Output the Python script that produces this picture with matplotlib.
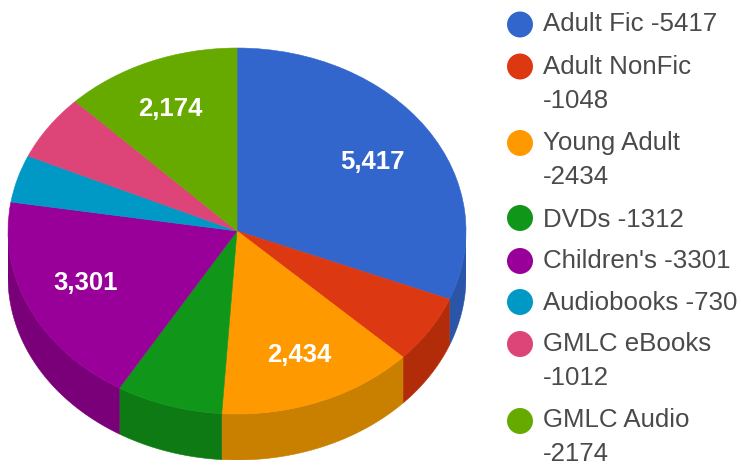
# pie chart of circulation by collection, tilted like the old google 3d pie
import numpy as np
import matplotlib
matplotlib.use('Agg')
import matplotlib.pyplot as plt

categories = ['Adult Fic', 'Adult NonFic', 'Young Adult', 'DVDs', "Children's",
              'Audiobooks', 'GMLC eBooks', 'GMLC Audio']
values = [5417, 1048, 2434, 1312, 3301, 730, 1012, 2174]
colors = ['#3366cc', '#dc3912', '#ff9900', '#109618', '#990099', '#0099c6', '#dd4477', '#66aa00']
side_colors = ['#2a55a8', '#b32c0a', '#c98000', '#0d7a13', '#7a007a', '#007a9e', '#b0365f', '#528800']
legend_text = ['Adult Fic -5417', 'Adult NonFic\n-1048', 'Young Adult\n-2434', 'DVDs -1312',
               "Children's -3301", 'Audiobooks -730', 'GMLC eBooks\n-1012', 'GMLC Audio\n-2174']

# how far out the value labels sit, None means no label on that slice
label_rx = [0.716, None, 0.75, None, 0.73, None, None, 0.76]
label_ry = [0.675, None, 0.73, None, 0.67, None, None, 0.72]
legend_y = [24.5, 66.5, 143, 218, 261, 302, 344, 421]
legend_text_y = [22, 65, 141, 218, 259, 301, 342, 418]

W, H = 741, 466
depth = 46 / 183  # wall height in pie radii

plt.rcParams['font.family'] = ['Liberation Sans', 'DejaVu Sans']
fig = plt.figure(figsize=(W / 100, H / 100), dpi=100)
ax = fig.add_axes([8 / W, 1 - 460 / H, 458 / W, 412 / H])

wedges, _ = ax.pie(values, colors=colors, startangle=90, counterclock=False, radius=1)
for w, c in zip(wedges, colors):
    w.set_edgecolor(c)
    w.set_linewidth(0.4)
    w.set_zorder(3)
ax.set_aspect('auto')
ax.set_xlim(-1, 1)
ax.set_ylim(-1 - depth, 1)

edges = np.cumsum([0] + values) / sum(values) * 360

# side wall, only the front half of the rim can be seen
for i in range(len(values)):
    a = max(edges[i], 90)
    b = min(edges[i + 1], 270)
    if b <= a:
        continue
    t = np.radians(np.linspace(a, b, 60))
    x = np.sin(t)
    y = np.cos(t)
    ax.fill(np.r_[x, x[::-1]], np.r_[y, y[::-1] - depth], color=side_colors[i], lw=0.4, zorder=2)

for i in range(len(values)):
    if label_rx[i] is None:
        continue
    mid = np.radians((edges[i] + edges[i + 1]) / 2)
    ax.text(label_rx[i] * np.sin(mid), label_ry[i] * np.cos(mid), f'{values[i]:,}',
            color='white', fontsize=18.5, fontweight='bold', ha='center', va='center', zorder=4)

# legend drawn by hand in pixel space, wraps are uneven in the original
lg = fig.add_axes([0, 0, 1, 1])
lg.set_xlim(0, W)
lg.set_ylim(H, 0)
lg.axis('off')
lg.patch.set_alpha(0)
lg.scatter([520] * len(legend_y), legend_y, s=350, c=colors, linewidths=0)
for txt, y in zip(legend_text, legend_text_y):
    lg.text(543, y - 10, txt, color='#4a4a4a', fontsize=18.6, ha='left', va='top', linespacing=1.53)

fig.savefig('out.png', dpi=100)
